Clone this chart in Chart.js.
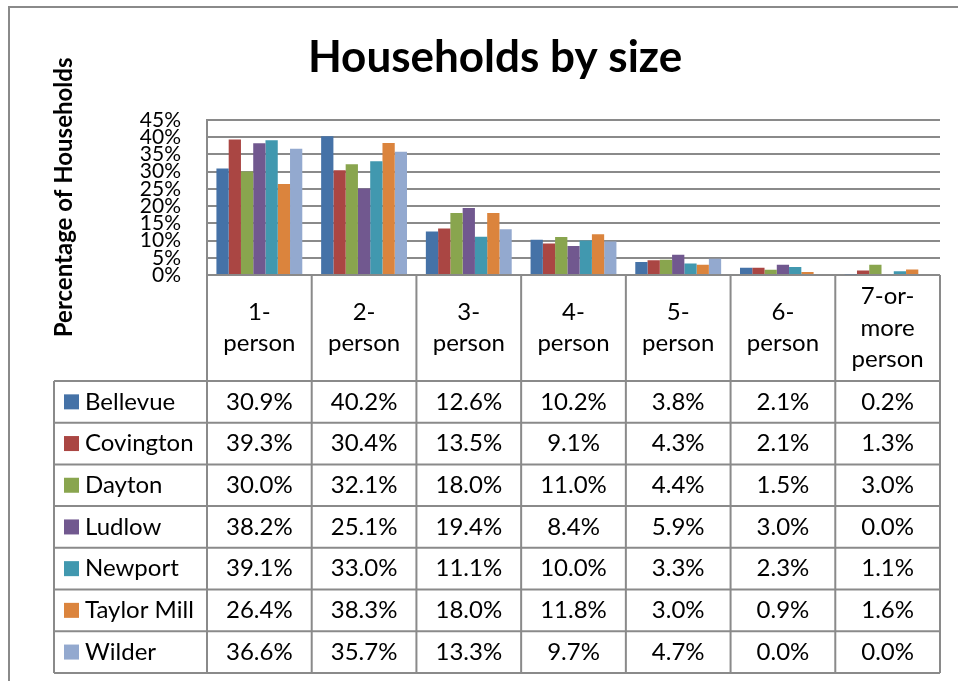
<!DOCTYPE html>
<html>
<head>
<meta charset="utf-8">
<script src="https://cdn.jsdelivr.net/npm/chart.js@4.4.0/dist/chart.umd.min.js"></script>
<style>
  html, body { margin: 0; padding: 0; background: #fff; }
  #wrap { width: 958px; height: 681px; }
</style>
</head>
<body>
<div id="wrap"><canvas id="chart"></canvas></div>
<script>
// household size categories (header row of the data table)
const categories = [['1-', 'person'], ['2-', 'person'], ['3-', 'person'], ['4-', 'person'],
                    ['5-', 'person'], ['6-', 'person'], ['7-or-', 'more', 'person']];

// percentage of households, one array per city
const bellevue   = [30.9, 40.2, 12.6, 10.2, 3.8, 2.1, 0.2];
const covington  = [39.3, 30.4, 13.5, 9.1, 4.3, 2.1, 1.3];
const dayton     = [30.0, 32.1, 18.0, 11.0, 4.4, 1.5, 3.0];
const ludlow     = [38.2, 25.1, 19.4, 8.4, 5.9, 3.0, 0.0];
const newport    = [39.1, 33.0, 11.1, 10.0, 3.3, 2.3, 1.1];
const taylorMill = [26.4, 38.3, 18.0, 11.8, 3.0, 0.9, 1.6];
const wilder     = [36.6, 35.7, 13.3, 9.7, 4.7, 0.0, 0.0];

const cities = ['Bellevue', 'Covington', 'Dayton', 'Ludlow', 'Newport', 'Taylor Mill', 'Wilder'];
const series = [bellevue, covington, dayton, ludlow, newport, taylorMill, wilder];
const colors = ['#4572A7', '#AA4643', '#89A54E', '#71588F', '#4198AF', '#DB843D', '#93A9CF'];

const FONT = 'Lato';
const lineColor = '#8a8a8a';

// draws the outer frame and the Excel style data table under the plot
const dataTable = {
  id: 'dataTable',
  beforeDraw(chart) {
    const ctx = chart.ctx;
    ctx.save();
    ctx.strokeStyle = lineColor;
    ctx.lineWidth = 2;
    ctx.strokeRect(9, 7, 1000, 1000);
    ctx.restore();
  },
  afterDraw(chart) {
    const { ctx, chartArea, scales: { x } } = chart;
    const colW = (chartArea.right - chartArea.left) / categories.length;
    const headTop = chartArea.bottom;
    const headBottom = headTop + 106;
    const rowH = 41.7;
    const tableLeft = 54;
    const tableBottom = headBottom + rowH * cities.length;

    ctx.save();
    ctx.strokeStyle = lineColor;
    ctx.lineWidth = 2;
    ctx.beginPath();
    for (let i = 0; i <= categories.length; i++) {
      const xx = chartArea.left + i * colW;
      ctx.moveTo(xx, headTop);
      ctx.lineTo(xx, tableBottom);
    }
    ctx.moveTo(tableLeft, headBottom);
    ctx.lineTo(tableLeft, tableBottom);
    for (let r = 0; r <= cities.length; r++) {
      const yy = headBottom + r * rowH;
      ctx.moveTo(tableLeft, yy);
      ctx.lineTo(chartArea.right, yy);
    }
    ctx.stroke();

    ctx.fillStyle = '#000';
    ctx.font = '24px ' + FONT;
    ctx.textAlign = 'center';
    ctx.textBaseline = 'middle';
    categories.forEach((lines, i) => {
      const cx = x.getPixelForValue(i);
      const lh = 31.5;
      const y0 = (headTop + headBottom) / 2 - (lines.length - 1) * lh / 2;
      lines.forEach((t, k) => ctx.fillText(t, cx, y0 + k * lh));
    });

    chart.data.datasets.forEach((ds, r) => {
      const cy = headBottom + r * rowH + rowH / 2;
      ctx.fillStyle = ds.backgroundColor;
      ctx.fillRect(64, cy - 7.5, 15, 15);
      ctx.fillStyle = '#000';
      ctx.textAlign = 'left';
      ctx.fillText(ds.label, 85, cy);
      ctx.textAlign = 'center';
      ds.data.forEach((v, i) => ctx.fillText(v.toFixed(1) + '%', x.getPixelForValue(i), cy));
    });
    ctx.restore();
  }
};

const ctx = document.getElementById('chart').getContext('2d');
const myChart = new Chart(ctx, {
  type: 'bar',
  data: {
    labels: categories.map(c => c.join(' ')),
    datasets: series.map((d, i) => ({
      label: cities[i],
      data: d,
      backgroundColor: colors[i],
      borderWidth: 0,
      categoryPercentage: 0.82,
      barPercentage: 1
    }))
  },
  options: {
    responsive: true,
    maintainAspectRatio: false,
    animation: false,
    layout: { padding: { left: 50, right: 18, top: 0, bottom: 406 } },
    plugins: {
      legend: { display: false },
      tooltip: { enabled: false },
      title: {
        display: true,
        text: 'Households by size',
        color: '#000',
        font: { family: FONT, size: 44, weight: 'bold' },
        padding: { top: 31, bottom: 36 }
      }
    },
    scales: {
      x: {
        grid: { display: false },
        border: { display: false },
        ticks: { display: false },
        afterFit: s => { s.height = 0; }
      },
      y: {
        min: 0,
        max: 45,
        afterFit: s => { s.width = 157; },
        ticks: {
          stepSize: 5,
          autoSkip: false,
          padding: 26,
          color: '#000',
          font: { family: FONT, size: 21 },
          callback: v => v + '%'
        },
        grid: { color: lineColor, lineWidth: 2, drawTicks: false },
        border: { display: true, color: lineColor, width: 2 },
        title: {
          display: true,
          text: 'Percentage of Households',
          color: '#000',
          font: { family: FONT, size: 24, weight: 'bold' },
          padding: 0
        }
      }
    }
  },
  plugins: [dataTable]
});
</script>
</body>
</html>
